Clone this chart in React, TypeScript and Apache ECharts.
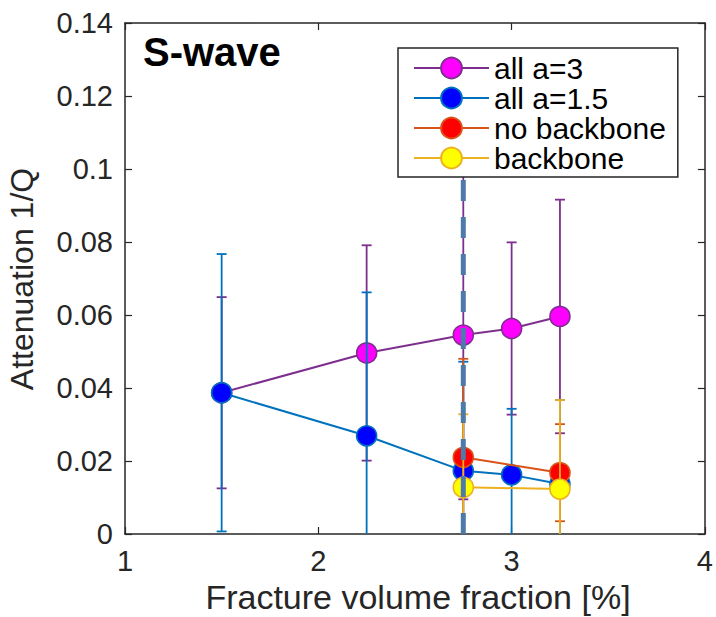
import React, { useEffect, useRef } from "react";
import * as echarts from "echarts";

// ---- data ----
const xAll = [1.5, 2.25, 2.75, 3, 3.25];
const allA3 = [0.0387, 0.0496, 0.0545, 0.0563, 0.0596];
const allA3Err = [0.0262, 0.0295, 0.045, 0.0236, 0.032];
const allA15 = [0.0387, 0.0269, 0.0173, 0.0162, 0.0137];
const allA15Err = [0.038, 0.0393, 0.0299, 0.0181, 0.023];
const xSub = [2.75, 3.25];
const noBackbone = [0.021, 0.0168];
const noBackboneErr = [0.027, 0.0133];
const backbone = [0.0128, 0.0123];
const backboneErr = [0.02, 0.0244];
const thresholdX = 2.75;
const thresholdY = [0, 0.1];
const seriesNames = ["all a=3", "all a=1.5", "no backbone", "backbone"];
const titleText = "S-wave";
const xName = "Fracture volume fraction [%]";
const yName = "Attenuation 1/Q";

const FONT = "'Liberation Sans', Arial, Helvetica, sans-serif";
const AX = "#262626";

const PURPLE = "#7E2F8E";
const BLUE = "#0072BD";
const RED = "#D95319";
const YELLOW = "#EDB120";

const Y_MIN = 0;
const Y_MAX = 0.14;

function errSeries(xs: number[], ys: number[], errs: number[], color: string, z: number) {
  return {
    type: "custom",
    z,
    silent: true,
    clip: true,
    data: xs.map((x, i) => [x, ys[i] - errs[i], ys[i] + errs[i]]),
    encode: { x: 0, y: [1, 2] },
    renderItem: (params: any, api: any) => {
      const x = api.value(0);
      const loRaw = api.value(1);
      const hiRaw = api.value(2);
      const lo = Math.max(loRaw, Y_MIN);
      const hi = Math.min(hiRaw, Y_MAX);
      const top = api.coord([x, hi]);
      const bot = api.coord([x, lo]);
      const hw = 5;
      const style = { stroke: color, lineWidth: 1.8, fill: "none" };
      const children: any[] = [
        { type: "line", shape: { x1: top[0], y1: top[1], x2: bot[0], y2: bot[1] }, style },
      ];
      if (hiRaw <= Y_MAX)
        children.push({ type: "line", shape: { x1: top[0] - hw, y1: top[1], x2: top[0] + hw, y2: top[1] }, style });
      if (loRaw >= Y_MIN)
        children.push({ type: "line", shape: { x1: bot[0] - hw, y1: bot[1], x2: bot[0] + hw, y2: bot[1] }, style });
      return { type: "group", children };
    },
  };
}

function lineSeries(name: string, xs: number[], ys: number[], color: string, fill: string, z: number) {
  return {
    type: "line",
    name,
    z,
    data: xs.map((x, i) => [x, ys[i]]),
    symbol: "circle",
    symbolSize: 20,
    showSymbol: true,
    lineStyle: { color, width: 2 },
    itemStyle: { color: fill, borderColor: color, borderWidth: 1.6 },
    emphasis: { disabled: true },
  };
}

export default function App() {
  const ref = useRef<HTMLDivElement>(null);
  useEffect(() => {
    if (!ref.current) return;
    const chart = echarts.init(ref.current, undefined, { renderer: "svg" });
    const axisCommon = {
      axisLine: { show: true, onZero: false, lineStyle: { color: AX, width: 1.5 } },
      axisTick: { show: true, inside: true, length: 7, lineStyle: { color: AX, width: 1.2 } },
      splitLine: { show: false },
    };
    const option: any = {
      animation: false,
      backgroundColor: "#fff",
      grid: { left: 125, right: 8, top: 23, bottom: 83, containLabel: false },
      xAxis: [
        {
          type: "value", min: 1, max: 4, interval: 1, position: "bottom",
          ...axisCommon,
          axisLabel: { fontSize: 29, color: AX, margin: 12, fontFamily: FONT },
        },
        {
          type: "value", min: 1, max: 4, interval: 1, position: "top",
          ...axisCommon,
          axisLabel: { show: false },
        },
      ],
      yAxis: [
        {
          type: "value", min: Y_MIN, max: Y_MAX, interval: 0.02, position: "left",
          ...axisCommon,
          axisLabel: { fontSize: 29, color: AX, margin: 12, fontFamily: FONT },
        },
        {
          type: "value", min: Y_MIN, max: Y_MAX, interval: 0.02, position: "right",
          ...axisCommon,
          axisLabel: { show: false },
        },
      ],
      legend: {
        data: seriesNames,
        orient: "vertical",
        left: 398,
        top: 48,
        selectedMode: false,
        backgroundColor: "#fff",
        borderColor: AX,
        borderWidth: 1.5,
        padding: [5, 12, 4, 15],
        itemWidth: 75,
        itemHeight: 26,
        itemGap: 0,
        z: 10,
        textStyle: { fontSize: 30, color: "#000", fontFamily: FONT, lineHeight: 30 },
      },
      graphic: [
        {
          type: "text", x: 143, y: 52, z: 20,
          style: { text: titleText, font: `bold 40px ${FONT}`, fill: "#000", align: "left", verticalAlign: "middle" },
        },
        {
          type: "text", x: 418, y: 597, z: 20,
          style: { text: xName, font: `34px ${FONT}`, fill: AX, align: "center", verticalAlign: "middle" },
        },
        {
          type: "text", x: 22, y: 279, rotation: Math.PI / 2, z: 20,
          style: { text: yName, font: `32px ${FONT}`, fill: AX, align: "center", verticalAlign: "middle" },
        },
      ],
      series: [
        errSeries(xAll, allA3, allA3Err, PURPLE, 2),
        lineSeries(seriesNames[0], xAll, allA3, PURPLE, "#FF00FF", 2),
        errSeries(xAll, allA15, allA15Err, BLUE, 3),
        lineSeries(seriesNames[1], xAll, allA15, BLUE, "#0000FF", 3),
        errSeries(xSub, noBackbone, noBackboneErr, RED, 4),
        lineSeries(seriesNames[2], xSub, noBackbone, RED, "#FF0000", 4),
        errSeries(xSub, backbone, backboneErr, YELLOW, 5),
        lineSeries(seriesNames[3], xSub, backbone, YELLOW, "#FFFF00", 5),
        {
          type: "line",
          name: "threshold",
          z: 6,
          silent: true,
          data: thresholdY.map((y) => [thresholdX, y]),
          showSymbol: false,
          symbol: "none",
          lineStyle: { color: "#4d7aa8", width: 5, type: [21, 16] },
        },
      ],
    };
    chart.setOption(option);
    return () => chart.dispose();
  }, []);
  return (
    <div
      ref={ref}
      style={{ position: "fixed", left: 0, top: 0, width: 716, height: 617 }}
    />
  );
}
